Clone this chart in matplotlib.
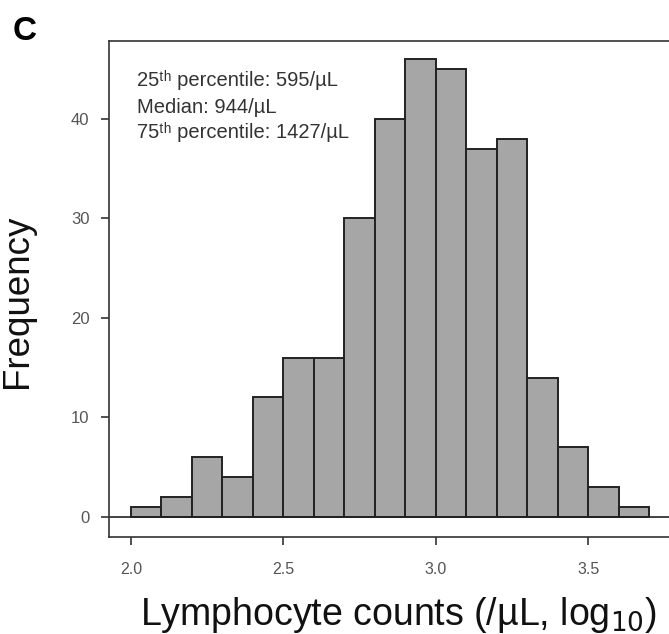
import numpy as np
import matplotlib
matplotlib.use("Agg")
import matplotlib.pyplot as plt

plt.rcParams['font.family'] = ['Liberation Sans', 'DejaVu Sans']

# histogram of log10 lymphocyte counts
bin_edges = [2.0, 2.1, 2.2, 2.3, 2.4, 2.5, 2.6, 2.7, 2.8, 2.9,
             3.0, 3.1, 3.2, 3.3, 3.4, 3.5, 3.6, 3.7]
counts = [1, 2, 6, 4, 12, 16, 16, 30, 40, 46, 45, 37, 38, 14, 7, 3, 1]
xticks = [2.0, 2.5, 3.0, 3.5]
yticks = [0, 10, 20, 30, 40]
stats_lines = ["25\u1d57\u02b0 percentile: 595/\u00b5L",
               "Median: 944/\u00b5L",
               "75\u1d57\u02b0 percentile: 1427/\u00b5L"]

fig = plt.figure(figsize=(6.69, 6.34), dpi=100)
# right edge runs past the canvas, like the cropped original
ax = fig.add_axes([0.1629, 0.1535, 0.8834, 0.7819])

ax.bar(bin_edges[:-1], counts, width=np.diff(bin_edges), align='edge',
       color='#a6a6a6', edgecolor='#222222', linewidth=1.4)
ax.axhline(0, color='#222222', linewidth=1.2)

ax.set_xlim(1.928, 3.866)
ax.set_ylim(-2.01, 47.86)
ax.set_xticks(xticks)
ax.set_xticklabels([f"{t:.1f}" for t in xticks])
ax.set_yticks(yticks)

for s in ax.spines.values():
    s.set_linewidth(1.2)
    s.set_color('#333333')

ax.tick_params(axis='both', direction='out', length=6, width=1.2,
               labelcolor='#555555', color='#333333')
ax.tick_params(axis='x', pad=12, labelsize=11.5)
ax.tick_params(axis='y', pad=8, labelsize=12)

ax.set_xlabel("Lymphocyte counts (/\u00b5L, log$_{10}$)", fontsize=27,
              color='#111111')
ax.xaxis.set_label_coords(0.596, 0.062, transform=fig.transFigure)
ax.set_ylabel("Frequency", fontsize=26.5, color='#111111')
ax.yaxis.set_label_coords(0.052, 0.524, transform=fig.transFigure)

stats_y = [0.909, 0.855, 0.804]
for line, yy in zip(stats_lines, stats_y):
    ax.text(0.047, yy, line, transform=ax.transAxes,
            fontsize=14.5, color='#333333', va='baseline', ha='left')

fig.text(0.037, 0.95, "C", fontsize=24, fontweight='bold', va='center', ha='center')

fig.savefig("out.png", dpi=100)
